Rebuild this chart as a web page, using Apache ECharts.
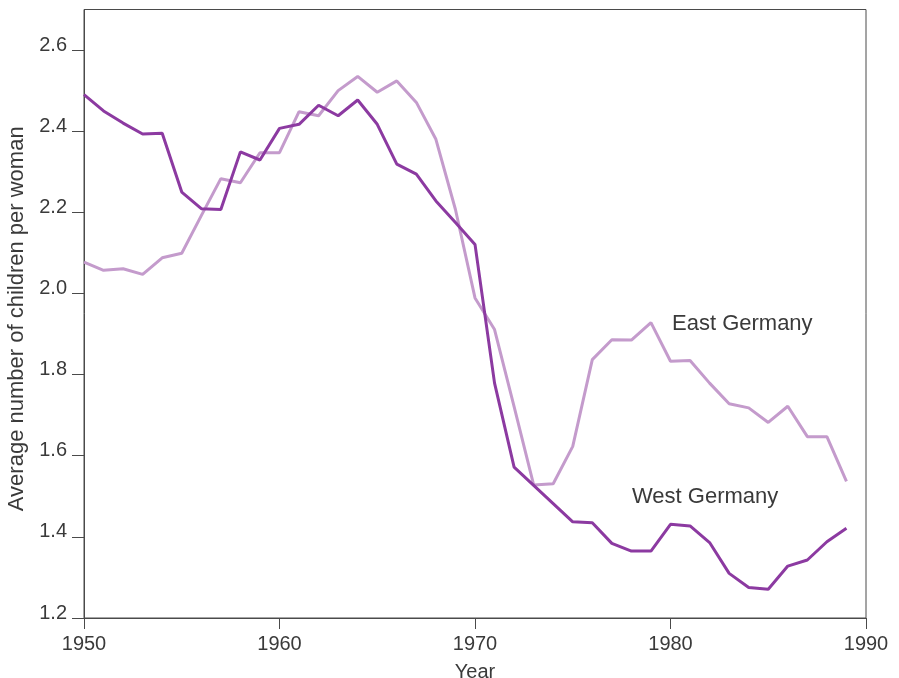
<!DOCTYPE html>
<html>
<head>
<meta charset="utf-8">
<script src="https://cdn.jsdelivr.net/npm/echarts@6/dist/echarts.min.js"></script>
<style>
html,body{margin:0;padding:0;background:#fff;}
#chart{width:899px;height:678px;}
</style>
</head>
<body>
<div id="chart"></div>
<script>
var years = [1950,1951,1952,1953,1954,1955,1956,1957,1958,1959,
             1960,1961,1962,1963,1964,1965,1966,1967,1968,1969,
             1970,1971,1972,1973,1974,1975,1976,1977,1978,1979,
             1980,1981,1982,1983,1984,1985,1986,1987,1988,1989];

var westGermany = [2.49,2.45,2.42,2.393,2.395,2.25,2.209,2.207,2.349,2.329,
                   2.407,2.417,2.464,2.438,2.477,2.417,2.319,2.294,2.228,2.175,
                   2.121,1.779,1.572,1.527,1.482,1.437,1.435,1.384,1.365,1.365,
                   1.431,1.427,1.386,1.310,1.275,1.271,1.328,1.343,1.388,1.421];

var eastGermany = [2.077,2.057,2.061,2.047,2.088,2.099,2.192,2.283,2.273,2.347,
                   2.347,2.448,2.438,2.500,2.535,2.496,2.524,2.471,2.380,2.207,
                   1.989,1.911,1.721,1.528,1.531,1.623,1.837,1.886,1.885,1.928,
                   1.833,1.835,1.779,1.728,1.718,1.682,1.722,1.647,1.647,1.537];

var yTicks = [1.2,1.4,1.6,1.8,2.0,2.2,2.4,2.6];
var xTicks = [1950,1960,1970,1980,1990];

var seriesNames = ['East Germany','West Germany'];

function pairs(xs, vs){ return xs.map(function(x,i){ return [x, vs[i]]; }); }

var FONT = '"Liberation Sans", Arial, Helvetica, sans-serif';
var TXT = '#3a3a3a';
var AX = '#4a4a4a';

var chart = echarts.init(document.getElementById('chart'), null, {renderer:'canvas'});
chart.setOption({
  animation: false,
  backgroundColor: '#ffffff',
  grid: {
    left: 84, right: 33, top: 9.5, bottom: 60,
    show: true, borderColor: AX, borderWidth: 1,
    containLabel: false, outerBoundsMode: 'none'
  },
  xAxis: {
    type: 'value', min: 1950, max: 1990, interval: 10,
    name: 'Year', nameLocation: 'middle', nameGap: 44,
    nameTextStyle: {fontFamily: FONT, fontSize: 20, color: TXT},
    axisLine: {show: true, lineStyle: {color: AX, width: 1}},
    axisTick: {show: true, inside: false, length: 11, lineStyle: {color: AX}, customValues: xTicks},
    axisLabel: {fontFamily: FONT, fontSize: 20, color: TXT, margin: 16, customValues: xTicks,
                formatter: function(v){ return String(Math.round(v)); }},
    splitLine: {show: false}
  },
  yAxis: {
    type: 'value', min: 1.2, max: 2.7,
    name: 'Average number of children per woman', nameLocation: 'middle', nameGap: 52,
    nameTextStyle: {fontFamily: FONT, fontSize: 22, color: TXT, padding: [0, 10, 0, 0]},
    axisLine: {show: true, lineStyle: {color: AX, width: 1}},
    axisTick: {show: true, inside: false, length: 12, lineStyle: {color: AX}, customValues: yTicks},
    axisLabel: {fontFamily: FONT, fontSize: 20, color: TXT, margin: 17, customValues: yTicks,
                verticalAlign: 'bottom', lineHeight: 10,
                formatter: function(v){ return v.toFixed(1); }},
    splitLine: {show: false}
  },
  series: [
    {
      name: seriesNames[0], type: 'line', data: pairs(years, eastGermany),
      showSymbol: false, symbol: 'none', smooth: false,
      lineStyle: {color: '#c49bcc', width: 3},
      z: 2
    },
    {
      name: seriesNames[1], type: 'line', data: pairs(years, westGermany),
      showSymbol: false, symbol: 'none', smooth: false,
      lineStyle: {color: '#8c3aa1', width: 3},
      z: 3
    }
  ],
  graphic: [
    {type: 'text', left: 672, top: 313,
     style: {text: seriesNames[0], font: '22px ' + FONT, fill: TXT}},
    {type: 'text', left: 632, top: 486,
     style: {text: seriesNames[1], font: '22px ' + FONT, fill: TXT}}
  ]
});
</script>
</body>
</html>
